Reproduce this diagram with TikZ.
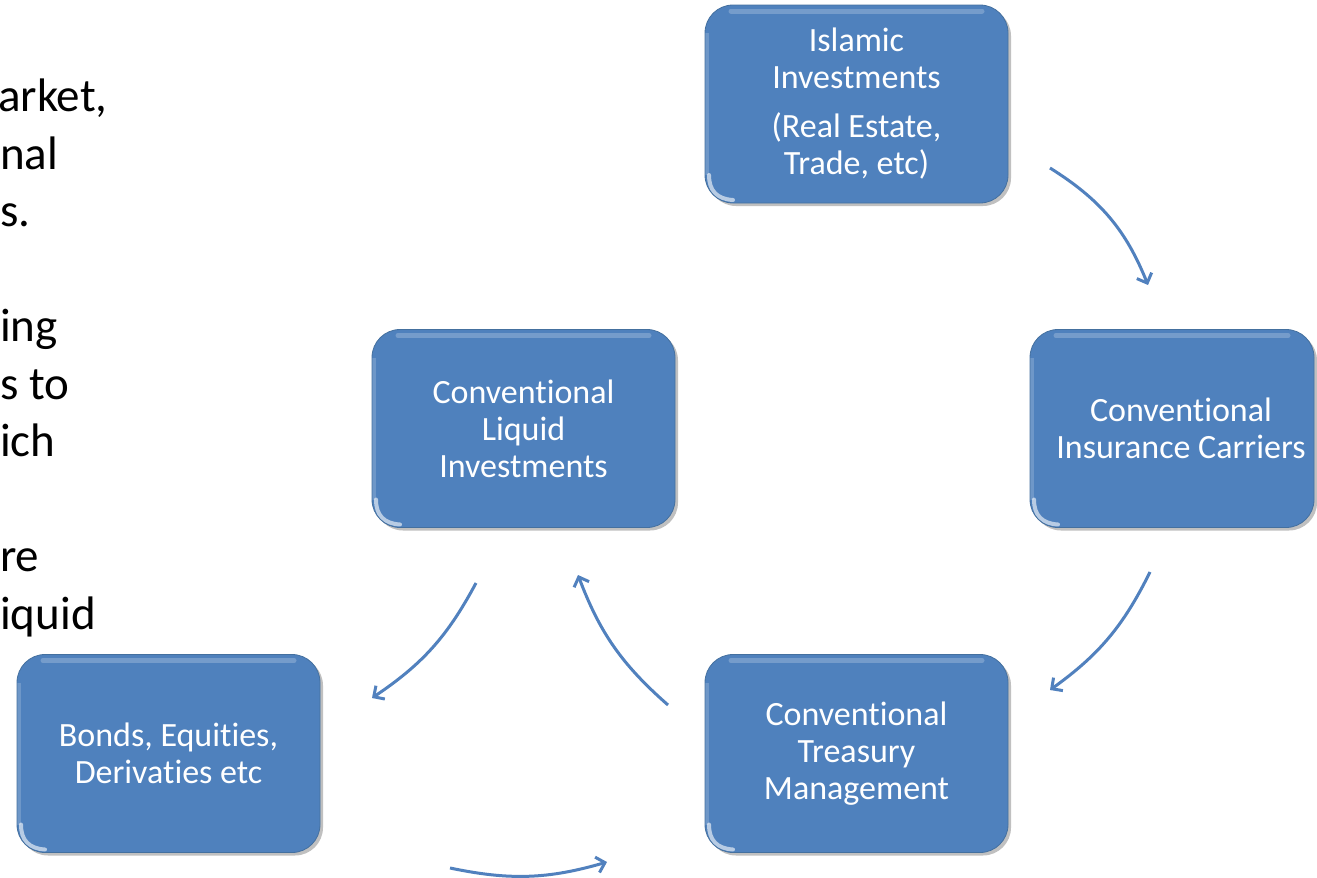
\documentclass[tikz,border=0pt]{standalone}
\usepackage{fontspec}
\setmainfont{Carlito}[Ligatures=NoCommon]
\usetikzlibrary{arrows.meta,shadows}
\definecolor{boxblue}{HTML}{4F81BD}
\definecolor{boxedge}{HTML}{44709F}
\definecolor{arrowblue}{HTML}{5181BE}
\begin{document}
\begin{tikzpicture}[x=1pt,y=-1pt,
  box/.style={rounded corners=28pt, minimum width=303pt, minimum height=198pt, inner sep=0pt,
    fill=boxblue, draw=boxedge, line width=0.8pt,
    drop shadow={shadow xshift=3pt, shadow yshift=-3pt, opacity=0.35, fill=black!70},
    path picture={
      \draw[white, opacity=0.22, line width=5pt, line cap=round]
        ([xshift=26pt,yshift=-6pt]path picture bounding box.north west) --
        ([xshift=-26pt,yshift=-6pt]path picture bounding box.north east);
      \draw[white, opacity=0.18, line width=4pt]
        ([xshift=2pt,yshift=-28pt]path picture bounding box.north west) --
        ([xshift=2pt,yshift=28pt]path picture bounding box.south west);
      \draw[white, opacity=0.6, line width=4pt, line cap=round]
        ([xshift=4pt,yshift=28pt]path picture bounding box.south west) .. controls
        ([xshift=4pt,yshift=12pt]path picture bounding box.south west) and
        ([xshift=12pt,yshift=4pt]path picture bounding box.south west) ..
        ([xshift=28pt,yshift=3pt]path picture bounding box.south west);
    }},
  boxtext/.style={text=white, align=center, font=\fontsize{34}{37}\selectfont},
  lefttext/.style={text=black, align=left, inner sep=0pt, font=\fontsize{47}{57.5}\selectfont},
  flow/.style={draw=arrowblue, line width=3pt, -{Straight Barb[length=8pt,width=16pt,line width=3pt]}}
]
\useasboundingbox (0,0) rectangle (1317,878);
\fill[white] (0,0) rectangle (1317,878);

% left clipped text
\node[lefttext, anchor=base west] (body) at (0,629) {\hspace*{-2pt}arket,\\nal\\s.\\\mbox{}\\ing\\s to\\ich\\\mbox{}\\re\\iquid};

% boxes
\node[box, boxtext] (isl) at (856.5,104) {Islamic\\Investments\\[12pt](Real Estate,\\Trade, etc)};
\node[box, boxtext] (liq) at (523.5,428.5) {Conventional\\Liquid\\Investments};
\node[box, minimum width=284pt] (ins) at (1172,428.5) {};
\node[boxtext] (instext) at (1181,428.5) {Conventional\\Insurance Carriers};
\node[box, boxtext] (bonds) at (168.5,753.5) {Bonds, Equities,\\Derivaties etc};
\node[box, boxtext] (tre) at (856.5,753.5) {Conventional\\Treasury\\Management};

% arrow end points
\coordinate (a1s) at (1050,168);
\coordinate (a1e) at (1148,285);
\coordinate (a2s) at (1150,572);
\coordinate (a2e) at (1050,690);
\coordinate (a3s) at (668,705);
\coordinate (a3e) at (578,575);
\coordinate (a4s) at (476,583);
\coordinate (a4e) at (372,698);
\coordinate (a5s) at (450,868);
\coordinate (a5e) at (607,862);

\draw[flow] (a1s) to[bend left=18] (a1e);
\draw[flow] (a2s) to[bend left=14] (a2e);
\draw[flow] (a3s) to[bend left=14] (a3e);
\draw[flow] (a4s) to[bend left=14] (a4e);
\draw[flow] (a5s) to[bend right=14] (a5e);
\end{tikzpicture}
\end{document}
